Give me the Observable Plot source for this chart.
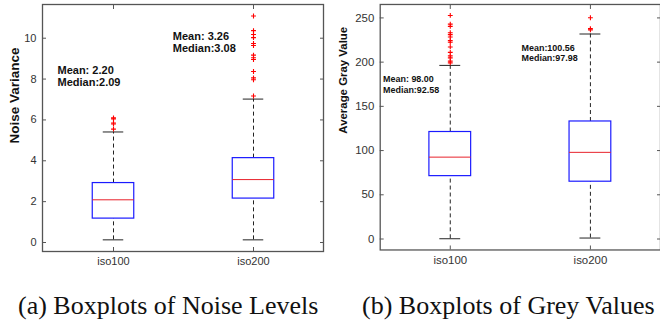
<!DOCTYPE html>
<html>
<head>
<meta charset="utf-8">
<script src="https://cdn.jsdelivr.net/npm/d3@7"></script>
<script src="https://cdn.jsdelivr.net/npm/@observablehq/plot@0.6"></script>
<style>
  body { margin: 0; background: white; overflow: hidden; }
  #wrap { position: relative; width: 660px; height: 328px; overflow: hidden; }
  .panel { position: absolute; top: 0; }
  .cap { position: absolute; top: 293px; font-family: "Liberation Serif", "Times New Roman", serif; font-size: 26px; line-height: 26px; color: #111; white-space: nowrap; }
</style>
</head>
<body>
<div id="wrap">
  <div class="panel" id="left" style="left:0"></div>
  <div class="panel" id="right" style="left:330px"></div>
  <div class="cap" style="left:18px">(a) Boxplots of Noise Levels</div>
  <div class="cap" style="left:362px">(b) Boxplots of Grey Values</div>
</div>
<script>
// ---- data ----
const categories = ["iso100", "iso200"];

// Noise variance boxplot stats
const noiseLow = [0.13, 0.13];
const noiseQ1 = [1.17, 2.15];
const noiseMedian = [2.09, 3.08];
const noiseQ3 = [2.91, 4.13];
const noiseHigh = [5.41, 7.02];
const noiseOutliers100 = [5.55, 5.8, 5.85, 6.05, 6.1];
const noiseOutliers200 = [7.17, 7.97, 8.06, 8.37, 8.96, 9.04, 9.17, 9.64, 9.74, 10.03, 10.18, 10.37, 11.09];
const noiseTicks = [0, 2, 4, 6, 8, 10];
const noiseNotes = ["Mean: 2.20\nMedian:2.09", "Mean: 3.26\nMedian:3.08"];
const noiseNoteY = [8.15, 9.8];

// Average gray value boxplot stats
const grayLow = [0.3, 1.1];
const grayQ1 = [71.1, 64.8];
const grayMedian = [92.58, 97.98];
const grayQ3 = [121, 132.9];
const grayHigh = [196.3, 231.8];
const grayOutliers100 = [199.2, 201.1, 204.8, 207.1, 211, 217.2, 222.5, 224.3, 228.4, 231.1, 233.3, 240.4, 243, 252.8];
const grayOutliers200 = [236.5, 237.9, 250.2];
const grayTicks = [0, 50, 100, 150, 200, 250];
const grayNotes = ["Mean: 98.00\nMedian:92.58", "Mean:100.56\nMedian:97.98"];
const grayNoteY = [175, 210.4];

function buildPanel({low, q1, med, q3, high, out100, out200, ticks, notes, noteY,
                     domain, ylabel, W, mL, mR, labelDx, labelDy, labelSize, labelWeight,
                     noteSize, noteDx, tickFont}) {
  const stats = categories.map((c, i) => ({cat: c, lo: low[i], q1: q1[i], med: med[i], q3: q3[i], hi: high[i]}));
  const outs = [
    ...out100.map(v => ({cat: categories[0], v})),
    ...out200.map(v => ({cat: categories[1], v}))
  ];
  const noteData = categories.map((c, i) => ({cat: c, text: notes[i], y: noteY[i], dx: noteDx[i]}));
  const H = 275;
  const plotW = W - mL - mR;
  const bw = plotW / 2;
  const boxInset = (bw - 42) / 2;
  const capInset = (bw - 21) / 2;
  const axisColor = "#555";
  return Plot.plot({
    width: W, height: H,
    marginLeft: mL, marginRight: mR, marginTop: 4, marginBottom: 24,
    style: {fontFamily: "'Liberation Sans', Arial, sans-serif", fontSize: tickFont + "px", color: "#333", background: "white", overflow: "visible"},
    x: {domain: categories, padding: 0, label: null},
    y: {domain: domain, label: null},
    marks: [
      Plot.frame({stroke: axisColor, strokeWidth: 1.3}),
      Plot.axisY({ticks, tickSize: -4, tickPadding: 10, stroke: axisColor, label: null}),
      Plot.axisY({ticks, anchor: "right", tickSize: -4, tickFormat: () => "", stroke: axisColor, label: null}),
      Plot.axisX({anchor: "bottom", tickSize: -4, tickPadding: 10, stroke: axisColor, label: null}),
      Plot.axisX({anchor: "top", tickSize: -4, tickFormat: () => "", stroke: axisColor, label: null}),
      Plot.ruleX(stats, {x: "cat", y1: "q3", y2: "hi", stroke: "#222", strokeDasharray: "4,3"}),
      Plot.ruleX(stats, {x: "cat", y1: "lo", y2: "q1", stroke: "#222", strokeDasharray: "4,3"}),
      Plot.tickY(stats, {x: "cat", y: "hi", stroke: "#222", insetLeft: capInset, insetRight: capInset}),
      Plot.tickY(stats, {x: "cat", y: "lo", stroke: "#222", insetLeft: capInset, insetRight: capInset}),
      Plot.barY(stats, {x: "cat", y1: "q1", y2: "q3", fill: "white", stroke: "#1a1aff", strokeWidth: 1.2, insetLeft: boxInset, insetRight: boxInset}),
      Plot.tickY(stats, {x: "cat", y: "med", stroke: "#e8202a", insetLeft: boxInset, insetRight: boxInset}),
      Plot.dot(outs, {x: "cat", y: "v", symbol: "plus", r: 1.7, stroke: "red", strokeWidth: 1.1}),
      ...noteData.map(d => Plot.text([d], {x: "cat", y: "y", text: "text", dx: d.dx, textAnchor: "start", lineAnchor: "middle", lineHeight: 1.13, fontWeight: "bold", fontSize: noteSize, fill: "#111"})),
      Plot.text([ylabel], {frameAnchor: "left", rotate: -90, dx: labelDx, dy: labelDy, fontWeight: labelWeight, fontSize: labelSize, fill: "#111"})
    ]
  });
}

document.getElementById("left").appendChild(buildPanel({
  low: noiseLow, q1: noiseQ1, med: noiseMedian, q3: noiseQ3, high: noiseHigh,
  out100: noiseOutliers100, out200: noiseOutliers200, ticks: noiseTicks,
  notes: noiseNotes, noteY: noiseNoteY, domain: [-0.44, 11.65], ylabel: "Noise Variance",
  W: 330, mL: 42, mR: 7, labelDx: -28, labelDy: 15.5, labelSize: 13.5, labelWeight: "bold",
  noteSize: 11, noteDx: [-56, -80.7], tickFont: 11
}));

document.getElementById("right").appendChild(buildPanel({
  low: grayLow, q1: grayQ1, med: grayMedian, q3: grayQ3, high: grayHigh,
  out100: grayOutliers100, out200: grayOutliers200, ticks: grayTicks,
  notes: grayNotes, noteY: grayNoteY, domain: [-12.4, 265.2], ylabel: "Average Gray Value",
  W: 332, mL: 50, mR: 0, labelDx: -37, labelDy: 6.5, labelSize: 11.5, labelWeight: "bold",
  noteSize: 9, noteDx: [-67.6, -69.3], tickFont: 11.5
}));
</script>
</body>
</html>
